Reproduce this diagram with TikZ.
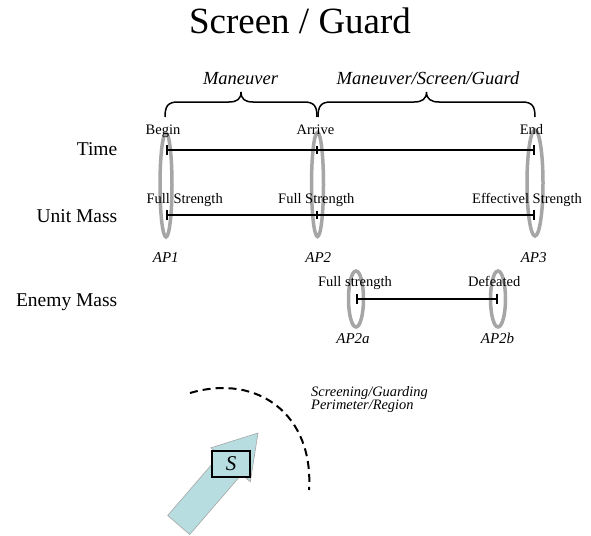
\documentclass[tikz,border=0pt]{standalone}
\usepackage{fontspec}
\setmainfont{Liberation Serif}
\usetikzlibrary{arrows.meta,shapes.geometric}
\definecolor{apgray}{RGB}{166,166,166}
\definecolor{arrowcyan}{RGB}{183,221,224}
\begin{document}
\begin{tikzpicture}[x=1pt,y=-1pt,
  titlelab/.style={font=\fontsize{37}{40}\selectfont, anchor=base, inner sep=0},
  lab/.style={font=\fontsize{14.5}{16}\selectfont, anchor=base, inner sep=0},
  aplab/.style={font=\fontsize{15}{17}\selectfont\itshape, anchor=base, inner sep=0},
  rowlab/.style={font=\fontsize{19.5}{22}\selectfont, anchor=base east, inner sep=0},
  bracelab/.style={font=\fontsize{18.5}{21}\selectfont\itshape, anchor=base, inner sep=0},
  apring/.style={ellipse, draw=apgray, line width=3.5pt, inner sep=0, minimum width=#1},
  timeline/.style={line width=2pt, {Bar[width=10pt,line width=2pt]}-{Bar[width=10pt,line width=2pt]}},
  midtick/.style={line width=2pt},
  bracestyle/.style={line width=1.5pt},
  perim/.style={line width=2pt, dash pattern=on 8pt off 5pt}]
\useasboundingbox (0,0) rectangle (591,535);
\fill[white] (0,0) rectangle (591,535);

% title
\node[titlelab] (title) at (300,34) {Screen / Guard};

% braces
\draw[bracestyle] (165,117) .. controls (165,106) and (168,102) .. (178,102) -- (229,102)
  .. controls (237,102) and (241,99) .. (241,92) .. controls (241,99) and (245,102) .. (253,102)
  -- (304,102) .. controls (314,102) and (317,106) .. (317,117);
\draw[bracestyle] (318,117) .. controls (318,106) and (321,102) .. (331,102) -- (414,102)
  .. controls (422,102) and (426.5,99) .. (426.5,92) .. controls (426.5,99) and (431,102) .. (439,102)
  -- (522,102) .. controls (532,102) and (535,106) .. (535,117);
\node[bracelab] (manlab) at (240.5,84) {Maneuver};
\node[bracelab] (msglab) at (428,84) {Maneuver/Screen/Guard};

% rings
\node[apring=12pt, minimum height=104pt] (ring1) at (166,185) {};
\node[apring=12pt, minimum height=104pt] (ring2) at (317.5,184.5) {};
\node[apring=16pt, minimum height=106pt] (ring3) at (535,183) {};
\node[apring=15pt, minimum height=56pt] (ring2a) at (356,299) {};
\node[apring=15pt, minimum height=56pt] (ring2b) at (498,299) {};

% row labels
\node[rowlab] (time) at (117.5,155) {Time};
\node[rowlab] (unit) at (117.5,222) {Unit Mass};
\node[rowlab] (enemy) at (117.5,306) {Enemy Mass};

% time line
\coordinate (tb) at (166,149.5);
\coordinate (tm) at (317,149.5);
\coordinate (te) at (535,149.5);
\draw[timeline] (tb) -- (te);
\draw[midtick] ([yshift=-4pt]tm) -- ([yshift=4pt]tm);

% unit mass line
\coordinate (ub) at (166,215);
\coordinate (um) at (317,215);
\coordinate (ue) at (535,215);
\draw[timeline] (ub) -- (ue);
\draw[midtick] ([yshift=-4pt]um) -- ([yshift=4pt]um);

% enemy line
\coordinate (eb) at (356,299);
\coordinate (ee) at (498,299);
\draw[timeline] (eb) -- (ee);

% labels
\node[lab] (begin) at (163,134) {Begin};
\node[lab] (arrive) at (315.5,134) {Arrive};
\node[lab] (endl) at (531.5,134) {End};
\node[lab] (fs1) at (184.7,203) {Full Strength};
\node[lab] (fs2) at (316.3,203) {Full Strength};
\node[lab] (effs) at (527,203) {Effectivel Strength};
\node[lab] (fs3) at (355,286) {Full strength};
\node[lab] (def) at (494.2,286) {Defeated};
\node[aplab] (ap1) at (165.8,262) {AP1};
\node[aplab] (ap2) at (318.3,262) {AP2};
\node[aplab] (ap3) at (533.7,262) {AP3};
\node[aplab] (ap2a) at (353,343) {AP2a};
\node[aplab] (ap2b) at (497.5,343) {AP2b};

% perimeter
\draw[perim] (190,393) .. controls (258,373) and (314,415) .. (309,490);
\node[font=\fontsize{14.4}{13.5}\selectfont\itshape, anchor=north west, align=left, inner sep=0]
  (perimlab) at (311,386) {Screening/Guarding\\Perimeter/Region};

% arrow
\path[draw=gray!70, fill=arrowcyan, line width=0.6pt] (167.7,515.5) -- (219.6,455.3) -- (210.9,447.8)
  -- (258,433) -- (250.3,481.8) -- (241.6,474.3) -- (189.7,534.5) -- cycle;
\node[draw, line width=2pt, fill=arrowcyan, minimum width=38pt, minimum height=26pt, inner sep=0,
  font=\fontsize{21}{24}\selectfont\itshape] (sbox) at (231,464) {S};
\end{tikzpicture}
\end{document}
